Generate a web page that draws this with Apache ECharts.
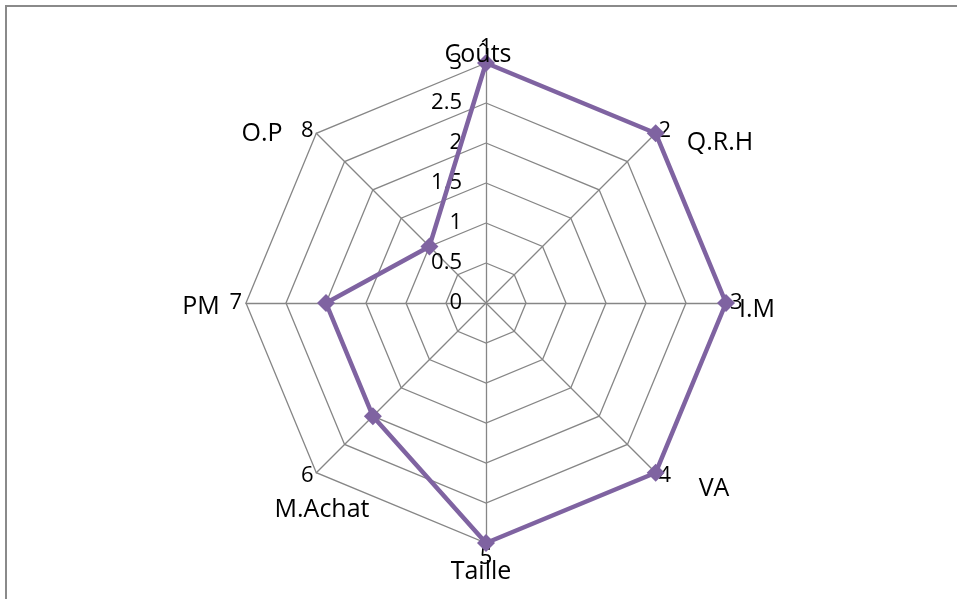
<!DOCTYPE html>
<html>
<head>
<meta charset="utf-8">
<script src="https://cdn.jsdelivr.net/npm/echarts@6/dist/echarts.min.js"></script>
<style>
  html, body { margin: 0; padding: 0; background: #fff; }
  #main { width: 957px; height: 599px; }
</style>
</head>
<body>
<div id="main"></div>
<script>
// axes of the radar (clockwise from top) and their numbers
var categories = ['Coûts', 'Q.R.H', 'I.M', 'VA', 'Taille', 'M.Achat', 'PM', 'O.P'];
var axisNumbers = ['1', '2', '3', '4', '5', '6', '7', '8'];
var seriesValues = [3, 3, 3, 3, 3, 2, 2, 1];
var tickLabels = ['0', '0.5', '1', '1.5', '2', '2.5', '3'];

var chart = echarts.init(document.getElementById('main'));

var cx = 486, cy = 303, R = 240;
var fontFam = 'Open Sans, Lato, sans-serif';

// echarts radar runs counter-clockwise, so walk the axes backwards after the first
var order = [0, 7, 6, 5, 4, 3, 2, 1];

// where each category name sits (pixels) - by eye
var namePos = [
    [478, 55], [720, 143], [757, 310], [714, 489],
    [481, 572], [322, 510], [201, 307], [262, 134]
];

var indicators = order.map(function (k, i) {
    var ind = { name: axisNumbers[k], min: 0, max: 3 };
    if (i > 0) ind.axisLabel = { show: false };
    return ind;
});
var radarValues = order.map(function (k) { return seriesValues[k]; });

var graphics = [{
    type: 'rect',
    shape: { x: 6, y: 6, width: 1200, height: 1200 },
    style: { fill: 'none', stroke: '#8a8a8a', lineWidth: 2 },
    silent: true
}];
categories.forEach(function (c, i) {
    graphics.push({
        type: 'text',
        x: namePos[i][0],
        y: namePos[i][1],
        style: {
            text: c,
            fill: '#000',
            font: '25px ' + fontFam,
            align: 'center',
            verticalAlign: 'middle'
        },
        z: 10
    });
});

var option = {
    backgroundColor: '#fff',
    animation: false,
    graphic: graphics,
    radar: {
        center: [cx, cy],
        radius: R,
        startAngle: 90,
        shape: 'polygon',
        splitNumber: 6,
        indicator: indicators,
        axisName: {
            color: '#000',
            fontSize: 22,
            fontFamily: fontFam
        },
        nameGap: 4,
        axisLine: { lineStyle: { color: '#868686', width: 1.3 } },
        splitLine: { lineStyle: { color: '#868686', width: 1.3 } },
        splitArea: { show: false },
        axisTick: { show: false },
        axisLabel: {
            show: true,
            color: '#000',
            fontSize: 22,
            fontFamily: fontFam,
            margin: 24,
            formatter: function (v) {
                var idx = Math.round(v * 2);
                return tickLabels[idx] !== undefined ? tickLabels[idx] : '';
            }
        }
    },
    series: [{
        type: 'radar',
        symbol: 'diamond',
        symbolSize: 18,
        lineStyle: { color: '#7F63A1', width: 4.5 },
        itemStyle: { color: '#7F63A1' },
        data: [{ value: radarValues, name: 'Série1' }]
    }]
};

chart.setOption(option);
</script>
</body>
</html>
